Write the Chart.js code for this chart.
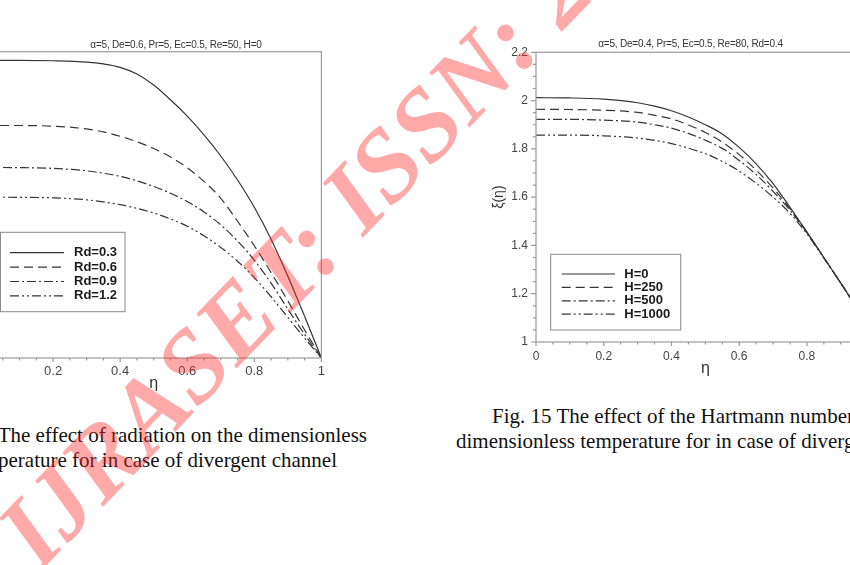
<!DOCTYPE html>
<html>
<head>
<meta charset="utf-8">
<title>Dimensionless temperature, divergent channel</title>
<script src="https://cdn.jsdelivr.net/npm/chart.js@4.4.1/dist/chart.umd.min.js"></script>
<style>
  html, body { margin: 0; padding: 0; overflow: hidden; background: #fff; }
  body { position: relative; width: 850px; height: 565px; }
  .wrap { position: absolute; }
  .ptitle {
    position: absolute; font: 10px 'Liberation Sans', Arial, sans-serif; letter-spacing: -0.2px;
    color: #333; text-align: center; white-space: nowrap; line-height: 12px;
  }
  .cap {
    position: absolute; font: 21px 'Liberation Serif', 'Times New Roman', serif;
    color: #111; white-space: nowrap; line-height: 21px;
  }
  #mark { position: absolute; left: 40px; top: 572px; width: 0; height: 0; transform: rotate(-46deg); transform-origin: 0 0; pointer-events: none; }
  #mark div {
    position: absolute; left: 0; top: -85.4px; white-space: nowrap;
    font: italic bold 102px/102px 'Liberation Serif', 'Times New Roman', serif;
    color: rgba(255, 40, 40, 0.4);
  }
</style>
</head>
<body>

<div class="wrap" style="left:-64px; top:0; width:395px; height:410px;"><canvas id="chartRd"></canvas></div>
<div class="wrap" style="left:490px; top:0; width:395px; height:382px;"><canvas id="chartH"></canvas></div>

<div class="ptitle" style="left:0; top:39.4px; width:352px;">α=5, De=0.6, Pr=5, Ec=0.5, Re=50, H=0</div>
<div class="ptitle" style="left:590.5px; top:38.4px; width:200px;">α=5, De=0.4, Pr=5, Ec=0.5, Re=80, Rd=0.4</div>

<div class="cap" style="right:483px; top:425.4px;">Fig. 14 The effect of radiation on the dimensionless</div>
<div class="cap" style="right:513px; top:450.4px;">temperature for in case of divergent channel</div>
<div class="cap" style="left:492px; top:406.4px;">Fig. 15 The effect of the Hartmann number on the</div>
<div class="cap" style="left:456px; top:431.4px;">dimensionless temperature for in case of divergent channel</div>

<div id="mark"><div>IJRASET: ISSN: 2321-9653</div></div>

<script>
// eta positions shared by every curve
const eta = [0, 0.1, 0.2, 0.3, 0.35, 0.4, 0.45, 0.5, 0.55, 0.6, 0.65, 0.7, 0.75, 0.8, 0.85, 0.9, 0.95, 1];

// Fig. 14 - radiation parameter Rd
const rdLabels = ['Rd=0.3', 'Rd=0.6', 'Rd=0.9', 'Rd=1.2'];
const rd03 = [2.944, 2.944, 2.941, 2.932, 2.920, 2.898, 2.854, 2.782, 2.686, 2.579, 2.457, 2.319, 2.162, 1.984, 1.776, 1.534, 1.272, 1.000];
const rd06 = [2.518, 2.518, 2.514, 2.496, 2.476, 2.448, 2.412, 2.368, 2.313, 2.243, 2.153, 2.043, 1.893, 1.733, 1.558, 1.373, 1.183, 1.000];
const rd09 = [2.244, 2.243, 2.238, 2.222, 2.206, 2.186, 2.157, 2.120, 2.076, 2.022, 1.954, 1.869, 1.764, 1.639, 1.489, 1.319, 1.154, 1.000];
const rd12 = [2.050, 2.049, 2.046, 2.033, 2.019, 2.001, 1.977, 1.947, 1.908, 1.860, 1.798, 1.722, 1.632, 1.525, 1.400, 1.265, 1.130, 1.000];

// Fig. 15 - Hartmann number H
const hLabels = ['H=0', 'H=250', 'H=500', 'H=1000'];
const h0 = [2.012, 2.011, 2.006, 1.991, 1.977, 1.958, 1.932, 1.900, 1.862, 1.806, 1.738, 1.656, 1.558, 1.455, 1.350, 1.244, 1.136, 1.025];
const h250 = [1.964, 1.963, 1.960, 1.951, 1.939, 1.924, 1.899, 1.868, 1.828, 1.776, 1.712, 1.638, 1.552, 1.455, 1.350, 1.244, 1.136, 1.025];
const h500 = [1.922, 1.922, 1.919, 1.911, 1.900, 1.886, 1.864, 1.836, 1.802, 1.752, 1.694, 1.624, 1.546, 1.453, 1.349, 1.244, 1.136, 1.025];
const h1000 = [1.857, 1.857, 1.854, 1.845, 1.835, 1.822, 1.803, 1.780, 1.748, 1.708, 1.658, 1.600, 1.533, 1.448, 1.347, 1.243, 1.135, 1.025];

// tick labels
const etaTicks = [0, 0.2, 0.4, 0.6, 0.8, 1];
const rdYTicks = [1, 1.5, 2, 2.5, 3];
const hYTicks = [1, 1.2, 1.4, 1.6, 1.8, 2, 2.2];

// solid, dash, dash-dot, dash-dot-dot
const dashes = [[], [9, 5], [9, 3, 2, 3], [9, 3, 2, 3, 2, 3]];

Chart.defaults.font.family = "'Liberation Sans', Arial, sans-serif";

// Box around the plot plus small outward ticks (major and minor)
const framePlugin = {
    id: 'frame',
    afterDraw(chart, args, o) {
        const {ctx, chartArea: a, scales: {x, y}} = chart;
        ctx.save();
        ctx.strokeStyle = '#9a9a9a';
        ctx.lineWidth = 1.2;
        ctx.strokeRect(a.left, a.top, a.right - a.left, a.bottom - a.top);

        ctx.beginPath();
        let n = Math.round((x.max - x.min) / o.xMinor);
        for (let i = 0; i <= n; i++) {
            const v = x.min + i * o.xMinor;
            const r = (v - x.min) / o.xMajor;
            const len = Math.abs(r - Math.round(r)) < 1e-6 ? 4 : 2.5;
            const px = x.getPixelForValue(v);
            ctx.moveTo(px, a.bottom);
            ctx.lineTo(px, a.bottom + len);
        }
        n = Math.round((y.max - y.min) / o.yMinor);
        for (let i = 0; i <= n; i++) {
            const v = y.min + i * o.yMinor;
            const r = (v - y.min) / o.yMajor;
            const len = Math.abs(r - Math.round(r)) < 1e-6 ? 5 : 3;
            const py = y.getPixelForValue(v);
            ctx.moveTo(a.left, py);
            ctx.lineTo(a.left - len, py);
        }
        ctx.stroke();
        ctx.restore();
    }
};

// Legend drawn as a framed box inside the plot
const boxLegend = {
    id: 'boxLegend',
    afterDatasetsDraw(chart, args, o) {
        const {ctx, chartArea: a} = chart;
        ctx.save();
        ctx.fillStyle = '#fff';
        ctx.fillRect(a.left + o.x, a.top + o.y, o.w, o.h);
        ctx.strokeStyle = '#888';
        ctx.lineWidth = 1;
        ctx.strokeRect(a.left + o.x, a.top + o.y, o.w, o.h);
        ctx.font = "bold 13px 'Liberation Sans', Arial, sans-serif";
        ctx.textBaseline = 'middle';
        chart.data.datasets.forEach((ds, i) => {
            const yy = a.top + o.rowY + i * o.gap;
            ctx.strokeStyle = ds.borderColor;
            ctx.lineWidth = ds.borderWidth;
            ctx.setLineDash(ds.borderDash);
            ctx.beginPath();
            ctx.moveTo(a.left + o.x1, yy);
            ctx.lineTo(a.left + o.x2, yy);
            ctx.stroke();
            ctx.setLineDash([]);
            ctx.fillStyle = '#1a1a1a';
            ctx.fillText(ds.label, a.left + o.tx, yy);
        });
        ctx.restore();
    }
};

function makeSets(labels, series) {
    return series.map((vals, i) => ({
        label: labels[i],
        data: eta.map((e, k) => ({x: e, y: vals[k]})),
        borderColor: '#353535',
        borderWidth: 1.2,
        borderDash: dashes[i],
        pointRadius: 0,
        fill: false,
        cubicInterpolationMode: 'monotone'
    }));
}

const fmt = v => String(Math.round(v * 100) / 100);

function makeOptions(cfg) {
    return {
        responsive: true,
        maintainAspectRatio: false,
        animation: false,
        layout: {padding: cfg.padding},
        plugins: {
            legend: {display: false},
            tooltip: {enabled: false},
            boxLegend: cfg.legend,
            frame: cfg.frame
        },
        scales: {
            x: {
                type: 'linear', min: 0, max: 1,
                afterBuildTicks: s => { s.ticks = etaTicks.map(v => ({value: v})); },
                afterFit: s => { s.height = cfg.xHeight; },
                grid: {display: false, drawTicks: false},
                border: {display: false},
                ticks: {padding: cfg.xPad, color: '#444', font: {size: cfg.tickSize}, maxRotation: 0, autoSkip: false, callback: fmt},
                title: {display: true, text: 'η', color: '#333', font: {size: 16, lineHeight: 1}, padding: {top: 0, bottom: cfg.xTitleBottom}}
            },
            y: {
                type: 'linear', min: cfg.yMin, max: cfg.yMax,
                afterBuildTicks: s => { s.ticks = cfg.yTicks.map(v => ({value: v})); },
                afterFit: s => { s.width = cfg.yWidth; },
                grid: {display: false, drawTicks: false},
                border: {display: false},
                ticks: {padding: 8, color: '#444', font: {size: cfg.tickSize}, autoSkip: false, callback: fmt},
                title: {display: true, text: 'ξ(η)', color: '#333', font: {size: 14, lineHeight: 1}, padding: {top: 2, bottom: 0}}
            }
        }
    };
}

new Chart(document.getElementById('chartRd'), {
    type: 'line',
    data: {datasets: makeSets(rdLabels, [rd03, rd06, rd09, rd12])},
    options: makeOptions({
        padding: {top: 51.7, right: 8, bottom: 0, left: 0},
        yMin: 1, yMax: 3, yTicks: rdYTicks, yWidth: 50,
        xHeight: 52, xPad: 6, tickSize: 13, xTitleBottom: 18,
        frame: {xMinor: 0.05, xMajor: 0.2, yMinor: 0.1, yMajor: 0.5},
        legend: {x: 14.5, y: 180.6, w: 124.5, h: 79.4, x1: 24, x2: 78, tx: 88, rowY: 201, gap: 14.4}
    }),
    plugins: [framePlugin, boxLegend]
});

new Chart(document.getElementById('chartH'), {
    type: 'line',
    data: {datasets: makeSets(hLabels, [h0, h250, h500, h1000])},
    options: makeOptions({
        padding: {top: 52.3, right: 10.3, bottom: 0, left: 0},
        yMin: 1, yMax: 2.2, yTicks: hYTicks, yWidth: 46,
        xHeight: 40, xPad: 7, tickSize: 12, xTitleBottom: 5,
        frame: {xMinor: 0.05, xMajor: 0.2, yMinor: 0.05, yMajor: 0.2},
        legend: {x: 14.7, y: 202, w: 130, h: 75.7, x1: 25.7, x2: 79, tx: 88.3, rowY: 221.7, gap: 13.4}
    }),
    plugins: [framePlugin, boxLegend]
});
</script>
</body>
</html>
